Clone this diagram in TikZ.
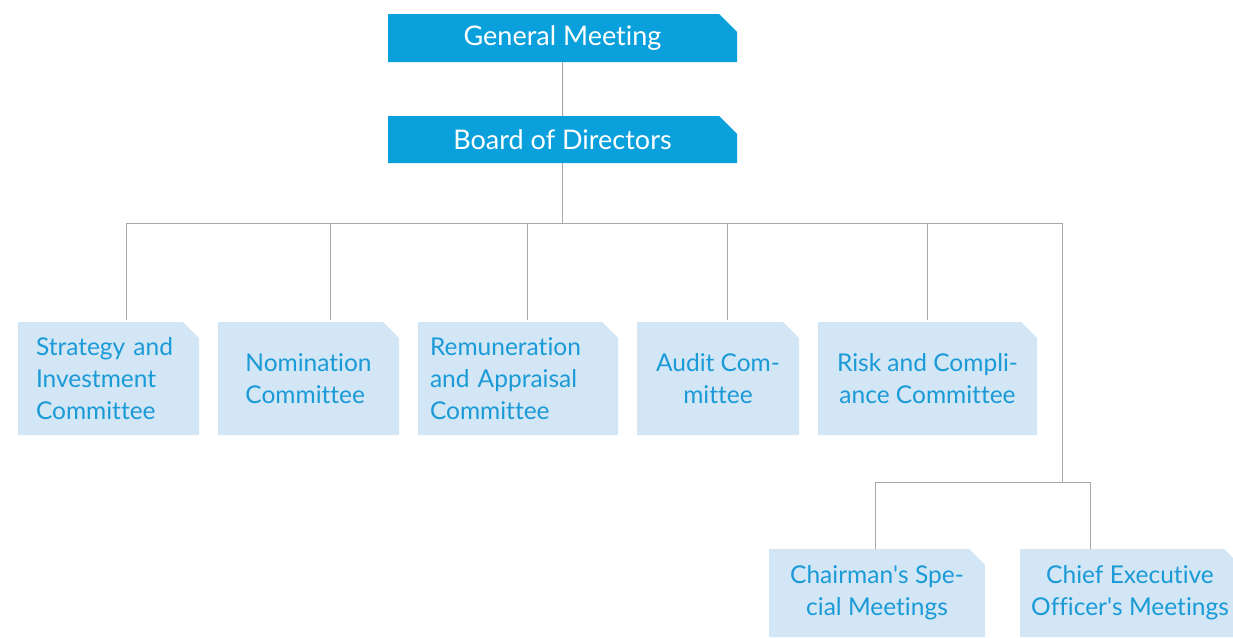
\documentclass[tikz,border=0pt]{standalone}
\usepackage{fontspec}
\setmainfont[Ligatures={NoCommon}]{Lato}
\usetikzlibrary{shapes.misc,positioning,calc}
\definecolor{topblue}{HTML}{0AA0DC}
\definecolor{paleblue}{HTML}{D2E6F6}
\definecolor{textblue}{HTML}{1A9AD6}
\definecolor{linegray}{HTML}{A8A8A8}
\tikzset{
topbox/.style={
  chamfered rectangle,
  chamfered rectangle corners=north east,
  chamfered rectangle xsep=9pt,
  chamfered rectangle ysep=9pt,
  fill=topblue,
  text=white,
  inner sep=0pt,
  minimum width=349pt,
  minimum height=48pt,
  font=\fontsize{27}{32}\selectfont
  },
commbox/.style={
  chamfered rectangle,
  chamfered rectangle corners=north east,
  chamfered rectangle xsep=8pt,
  chamfered rectangle ysep=8pt,
  fill=paleblue,
  text=textblue,
  inner sep=0pt,
  minimum height=113pt,
  font=\fontsize{24.5}{32}\selectfont
  },
line/.style={draw=linegray, line width=1pt}
}

\begin{document}
\begin{tikzpicture}[x=1pt, y=-1pt]
\useasboundingbox (0,0) rectangle (1233,637);
\node[topbox] (gm) at (562.5,38) {General Meeting};
\node[topbox, minimum height=47pt] (bod) at (562.5,139.5) {Board of Directors};
\node[commbox, minimum width=181pt, align=left, text width=145pt] (s1) at (108.5,378.5) {Strategy and\\Investment\\Committee};
\node[commbox, minimum width=181pt, align=left] (s2) at (308.5,378.5) {Nomination\\Committee};
\node[commbox, minimum width=200pt, align=left, text width=176pt] (s3) at (518,378.5) {Remuneration\\and Appraisal\\Committee};
\node[commbox, minimum width=162pt, align=center] (s4) at (718,378.5) {Audit Com-\\mittee};
\node[commbox, minimum width=219pt, align=center] (s5) at (927.5,378.5) {Risk and Compli-\\ance Committee};
\node[commbox, minimum width=216pt, minimum height=88pt, align=center] (ch) at (877,593) {Chairman\textquotesingle s Spe-\\cial Meetings};
\node[commbox, minimum width=220pt, minimum height=88pt, align=center] (ceo) at (1130,593) {Chief Executive\\Officer\textquotesingle s Meetings};
\coordinate (split) at (1062,482);
\draw[line] (gm) -- (bod);
\draw[line] (bod.south) -- ++(0,60) coordinate (hub);
\foreach \n/\dx in {s1/17.5, s2/21.5, s3/9, s4/9, s5/-0.5}
  \draw[line] (hub) -| ([xshift=\dx pt, yshift=2pt]\n.north);
\draw[line] (hub) -| (split);
\draw[line] (split) -| ([xshift=-2pt]ch.north);
\draw[line] (split) -| ([xshift=-40pt]ceo.north);
\end{tikzpicture}
\end{document}
